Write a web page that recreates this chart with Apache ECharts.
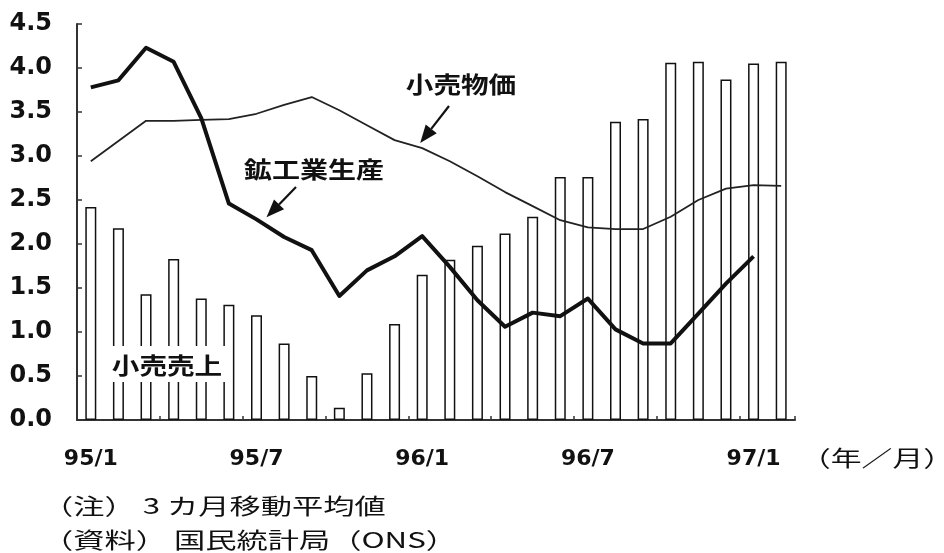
<!DOCTYPE html>
<html>
<head>
<meta charset="utf-8">
<script src="https://cdn.jsdelivr.net/npm/echarts@6/dist/echarts.min.js"></script>
<style>
  html, body { margin: 0; padding: 0; background: #fff; }
  #main { width: 944px; height: 553px; }
</style>
</head>
<body>
<div id="main"></div>
<script>
// Monthly categories, 1995/1 – 1997/2
const categories = [
  '95/1','95/2','95/3','95/4','95/5','95/6','95/7','95/8','95/9','95/10','95/11','95/12',
  '96/1','96/2','96/3','96/4','96/5','96/6','96/7','96/8','96/9','96/10','96/11','96/12',
  '97/1','97/2'
];

// 小売売上 (bars)
const retailSales = [
  2.42, 2.18, 1.43, 1.83, 1.38, 1.31, 1.19, 0.87, 0.50, 0.14, 0.53, 1.09,
  1.65, 1.82, 1.98, 2.12, 2.31, 2.76, 2.76, 3.39, 3.42, 4.06, 4.07, 3.87,
  4.05, 4.07
];

// 鉱工業生産 (thick line)
const industrialProduction = [
  3.78, 3.86, 4.23, 4.07, 3.43, 2.46, 2.28, 2.08, 1.93, 1.41, 1.70, 1.86,
  2.09, 1.74, 1.36, 1.06, 1.22, 1.18, 1.38, 1.03, 0.87, 0.87, 1.21, 1.55,
  1.86, null
];

// 小売物価 (thin line)
const retailPrices = [
  2.94, 3.17, 3.40, 3.40, 3.41, 3.42, 3.48, 3.58, 3.67, 3.52, 3.35, 3.18,
  3.09, 2.94, 2.77, 2.59, 2.43, 2.27, 2.19, 2.17, 2.17, 2.31, 2.50, 2.63,
  2.67, 2.66
];

// y-axis range
const yMin = 0, yMax = 4.5, yStep = 0.5;

const INK = '#111';
const NUM_FONT = '"DejaVu Sans", "Liberation Sans", sans-serif';
const JP_FONT = '"Noto Sans CJK JP", "Noto Sans", sans-serif';

const chart = echarts.init(document.getElementById('main'), null, { renderer: 'canvas' });

chart.setOption({
  animation: false,
  backgroundColor: '#fff',
  grid: { left: 77, right: 149, top: 24, bottom: 133 },
  xAxis: {
    type: 'category',
    data: categories,
    boundaryGap: true,
    axisLine: { lineStyle: { color: '#333', width: 2 } },
    axisTick: { show: true, interval: 2, inside: true, length: 4, lineStyle: { color: '#333', width: 1.5 } },
    axisLabel: {
      interval: 5,
      margin: 28,
      color: INK,
      fontFamily: NUM_FONT,
      fontWeight: 'bold',
      fontSize: 22
    },
    splitLine: { show: false }
  },
  yAxis: {
    type: 'value',
    min: yMin,
    max: yMax,
    interval: yStep,
    axisLine: { show: true, lineStyle: { color: '#333', width: 2 } },
    axisTick: { show: true, inside: true, length: 5, lineStyle: { color: '#333', width: 1.5 } },
    axisLabel: {
      margin: 25,
      color: INK,
      fontFamily: NUM_FONT,
      fontWeight: 'bold',
      fontSize: 24,
      formatter: v => v.toFixed(1)
    },
    splitLine: { show: false }
  },
  series: [
    {
      name: '小売売上',
      type: 'bar',
      data: retailSales,
      barWidth: 11,
      itemStyle: { color: '#fff', borderColor: INK, borderWidth: 1.5 },
      z: 2
    },
    {
      name: '小売物価',
      type: 'line',
      data: retailPrices,
      symbol: 'none',
      lineStyle: { color: '#222', width: 1.8 },
      z: 3
    },
    {
      name: '鉱工業生産',
      type: 'line',
      data: industrialProduction,
      symbol: 'none',
      connectNulls: false,
      lineStyle: { color: INK, width: 4, join: 'round' },
      z: 4
    }
  ]
});

// Arrow built from a shaft and a filled triangular head
function arrow(tail, tip, headLen, headHalf) {
  const dx = tip[0] - tail[0], dy = tip[1] - tail[1];
  const len = Math.hypot(dx, dy);
  const ux = dx / len, uy = dy / len;
  const bx = tip[0] - ux * headLen, by = tip[1] - uy * headLen;
  const px = -uy, py = ux;
  return [
    {
      type: 'line', z: 100,
      shape: { x1: tail[0], y1: tail[1], x2: bx, y2: by },
      style: { stroke: INK, lineWidth: 2.2 }
    },
    {
      type: 'polygon', z: 100,
      shape: { points: [tip, [bx + px * headHalf, by + py * headHalf], [bx - px * headHalf, by - py * headHalf]] },
      style: { fill: INK }
    }
  ];
}

function label(text, x, y, size, sx, align, weight) {
  return {
    type: 'text', z: 101, x: x, y: y, scaleX: sx,
    style: {
      text: text, x: 0, y: 0,
      fill: INK, font: (weight || 'bold') + ' ' + size + 'px ' + JP_FONT,
      align: align || 'center', verticalAlign: 'middle'
    }
  };
}

// Arrow tips anchored to points on the two lines
const priceTip = chart.convertToPixel({ seriesIndex: 1 }, [12, retailPrices[12]]);
const prodTip = chart.convertToPixel({ seriesIndex: 2 }, [6, industrialProduction[6]]);

const graphics = []
  .concat(arrow([449, 106], [priceTip[0] - 2, priceTip[1] - 5], 18, 7))
  .concat(arrow([296, 187], [prodTip[0] + 10, prodTip[1] - 2], 18, 7))
  .concat([
    label('小売物価', 461, 84, 23, 1.2),
    label('鉱工業生産', 314, 169, 23, 1.22),
    {
      type: 'rect', z: 99,
      shape: { x: 104, y: 346, width: 128, height: 36 },
      style: { fill: '#fff' }
    },
    label('小売売上', 167, 365, 23, 1.2),
    label('（年／月）', 877, 458, 22, 1.4, 'center', 'normal'),
    label('（注） 3 カ月移動平均値', 42, 506, 22, 1.42, 'left', 'normal'),
    label('（資料） 国民統計局（ONS）', 42, 540, 22, 1.42, 'left', 'normal')
  ]);

chart.setOption({ graphic: { elements: graphics } });
</script>
</body>
</html>
